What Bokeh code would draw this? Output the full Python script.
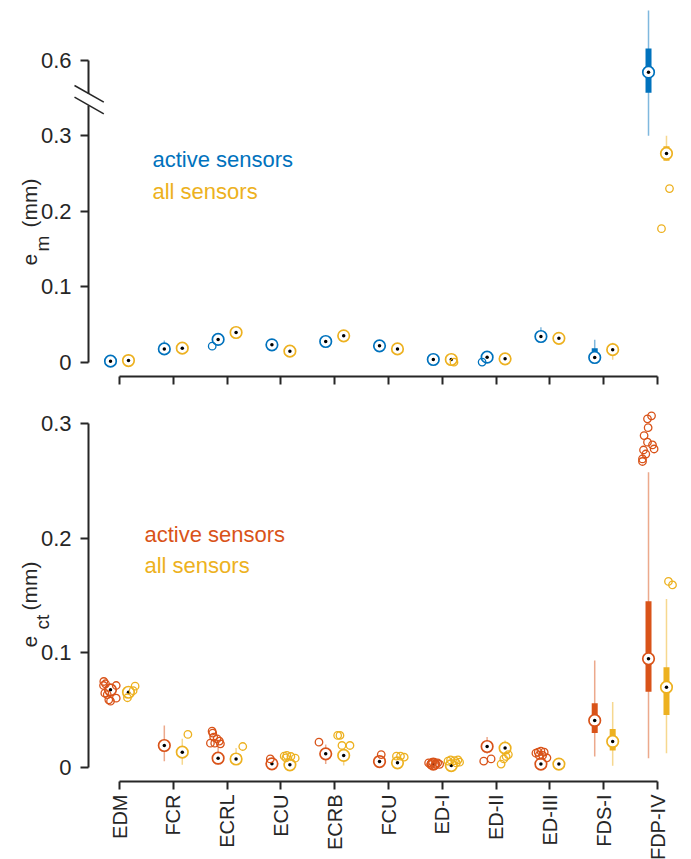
import numpy as np
from bokeh.plotting import figure
from bokeh.models import ColumnDataSource, FixedTicker, Label, Arrow, Range1d, LinearAxis
from bokeh.layouts import column
from bokeh.embed import file_html
from bokeh.resources import INLINE

# ---------------- data ----------------
CATS = ["EDM", "FCR", "ECRL", "ECU", "ECRB", "FCU", "ED-I", "ED-II", "ED-III", "FDS-I", "FDP-IV"]

# e_m, active sensors
em_act_med = [0.0018, 0.0180, 0.0305, 0.0234, 0.0278, 0.0220, 0.0040, 0.0070, 0.0344, 0.0066, 0.580]
em_act_q1  = [0.0017, 0.0170, 0.0300, 0.0222, 0.0272, 0.0215, 0.0038, 0.0066, 0.0338, 0.0062, 0.546]
em_act_q3  = [0.0020, 0.0190, 0.0310, 0.0252, 0.0284, 0.0225, 0.0042, 0.0074, 0.0350, 0.0190, 0.619]
em_act_wlo = [0.0016, 0.0160, 0.0295, 0.0220, 0.0270, 0.0212, 0.0036, 0.0064, 0.0330, 0.0040, 0.475]
em_act_whi = [0.0021, 0.0290, 0.0315, 0.0255, 0.0286, 0.0228, 0.0044, 0.0076, 0.0467, 0.0300, 0.682]
em_act_out_cat = [2, 7]
em_act_out_val = [0.0216, 0.0005]
em_act_out_dx  = [-0.11, -0.093]

# e_m, all sensors
em_all_med = [0.0026, 0.0190, 0.0397, 0.0150, 0.0353, 0.0180, 0.0040, 0.0048, 0.0320, 0.0170, 0.2765]
em_all_q1  = [0.0025, 0.0185, 0.0392, 0.0145, 0.0348, 0.0175, 0.0038, 0.0046, 0.0315, 0.0150, 0.2670]
em_all_q3  = [0.0028, 0.0195, 0.0402, 0.0155, 0.0358, 0.0185, 0.0042, 0.0050, 0.0325, 0.0190, 0.2860]
em_all_wlo = [0.0024, 0.0180, 0.0390, 0.0140, 0.0345, 0.0172, 0.0036, 0.0044, 0.0312, 0.0036, 0.2670]
em_all_whi = [0.0029, 0.0200, 0.0405, 0.0160, 0.0360, 0.0188, 0.0044, 0.0052, 0.0328, 0.0260, 0.3000]
em_all_out_cat = [6, 10, 10]
em_all_out_val = [0.0004, 0.230, 0.177]
em_all_out_dx  = [0.05, 0.056, -0.093]

# e_ct, active sensors
ect_act_med = [0.0677, 0.0192, 0.0081, 0.0032, 0.0119, 0.0052, 0.0030, 0.0183, 0.0030, 0.0410, 0.0948]
ect_act_q1  = [0.0670, 0.0160, 0.0060, 0.0030, 0.0100, 0.0050, 0.0028, 0.0160, 0.0028, 0.0300, 0.0660]
ect_act_q3  = [0.0685, 0.0230, 0.0110, 0.0035, 0.0140, 0.0055, 0.0033, 0.0210, 0.0033, 0.0560, 0.1450]
ect_act_wlo = [0.0665, 0.0055, 0.0024, 0.0028, 0.0030, 0.0048, 0.0025, 0.0120, 0.0025, 0.0096, 0.0081]
ect_act_whi = [0.0690, 0.0366, 0.0177, 0.0036, 0.0200, 0.0056, 0.0035, 0.0265, 0.0035, 0.0933, 0.2575]
ect_act_out_cat = [0, 0, 0, 0, 0, 0, 0, 0, 0,
                   2, 2, 2, 2, 2, 2, 2, 2,
                   3, 4, 5,
                   6, 6, 6, 6, 6, 6, 6, 6,
                   7, 7,
                   8, 8, 8, 8, 8, 8, 8,
                   10, 10, 10, 10, 10, 10, 10, 10, 10, 10, 10]
ect_act_out_val = [0.0750, 0.0730, 0.0715, 0.0648, 0.0636, 0.0590, 0.0578, 0.0715, 0.0604,
                   0.0317, 0.0300, 0.0265, 0.0212, 0.0212, 0.0230, 0.0206, 0.0250,
                   0.0075, 0.0221, 0.0113,
                   0.0040, 0.0025, 0.0045, 0.0030, 0.0040, 0.0018, 0.0035, 0.0028,
                   0.0055, 0.0075,
                   0.0125, 0.0134, 0.0142, 0.0134, 0.0105, 0.0084, 0.0105,
                   0.3040, 0.3066, 0.2963, 0.2894, 0.2836, 0.2812, 0.2777, 0.2768, 0.2733, 0.2690, 0.2668]
ect_act_out_dx = [-0.125, -0.093, -0.130, -0.106, -0.061, -0.032, 0.0, 0.106, 0.106,
                  -0.112, -0.100, -0.082, -0.143, -0.063, 0.024, 0.043, -0.019,
                  -0.030, -0.125, 0.032,
                  -0.087, -0.050, -0.013, 0.043, 0.080, 0.024, -0.032, 0.117,
                  -0.063, 0.074,
                  -0.093, -0.050, 0.0, 0.061, 0.032, 0.112, -0.032,
                  -0.019, 0.056, -0.007, -0.082, -0.019, 0.074, 0.104, -0.093, -0.050, -0.112, -0.112]

# e_ct, all sensors
ect_all_med = [0.0656, 0.0134, 0.0074, 0.0023, 0.0105, 0.0041, 0.0017, 0.0169, 0.0030, 0.0227, 0.0700]
ect_all_q1  = [0.0650, 0.0110, 0.0060, 0.0020, 0.0090, 0.0038, 0.0015, 0.0150, 0.0028, 0.0148, 0.0457]
ect_all_q3  = [0.0662, 0.0160, 0.0090, 0.0026, 0.0120, 0.0044, 0.0020, 0.0190, 0.0033, 0.0336, 0.0873]
ect_all_wlo = [0.0645, 0.0023, 0.0030, 0.0018, 0.0017, 0.0036, 0.0013, 0.0130, 0.0025, 0.0015, 0.0125]
ect_all_whi = [0.0668, 0.0250, 0.0170, 0.0028, 0.0160, 0.0046, 0.0022, 0.0235, 0.0035, 0.0570, 0.1470]
ect_all_out_cat = [0, 0, 0, 1, 2, 3, 3, 3, 3, 3, 4, 4, 4, 4, 5, 5, 5,
                   6, 6, 6, 6, 6, 6, 7, 7, 7, 7, 10, 10]
ect_all_out_val = [0.0709, 0.0608, 0.0670, 0.0288, 0.0183,
                   0.0099, 0.0105, 0.0096, 0.0081, 0.0084,
                   0.0280, 0.0280, 0.0192, 0.0192,
                   0.0099, 0.0099, 0.0090,
                   0.0055, 0.0066, 0.0060, 0.0066, 0.0040, 0.0046,
                   0.0030, 0.0075, 0.0096, 0.0113,
                   0.1622, 0.1592]
ect_all_out_dx = [0.123, -0.019, 0.086, 0.104, 0.124,
                  -0.106, -0.056, 0.019, 0.099, -0.074,
                  -0.112, -0.069, -0.032, 0.117,
                  -0.019, 0.056, 0.125,
                  -0.061, -0.013, 0.061, 0.125, 0.093, 0.154,
                  -0.074, -0.024, 0.019, 0.061,
                  0.037, 0.112]

EM_TICKS = [0, 0.1, 0.2, 0.3, 0.6]
ECT_TICKS = [0, 0.1, 0.2, 0.3]

# ---------------- style ----------------
BLUE, RED, YELLOW = "#0072BD", "#D95319", "#EDB120"
AX = "#262626"
FONT = "Liberation Sans"
GROUP_OFFSET = 0.167

# broken axis for e_m
EM_BREAK_LO, EM_BREAK_HI, EM_UPPER_SCALE = 0.3, 0.475, 0.8


def disp_em(v):
    v = np.asarray(v, dtype=float)
    return np.where(v <= EM_BREAK_LO, v, EM_BREAK_LO + (v - EM_BREAK_HI) * EM_UPPER_SCALE)


def ident(v):
    return np.asarray(v, dtype=float)


W = 691
PX_CAT = 53.8
AXIS_PX = 88            # pixel x of the y-axis line
RIGHT_B = 6
FW = W - RIGHT_B        # frame spans from x=0
C_AXIS = -31.0 / PX_CAT
X_L = C_AXIS - AXIS_PX / PX_CAT
X_R = X_L + FW / PX_CAT

T1, FH1, B1 = 4, 372, 14
H1 = T1 + FH1 + B1
EM_PX = 756.0
EM_Y0 = -14.0 / EM_PX
EM_Y1 = EM_Y0 + FH1 / EM_PX

T2, FH2, B2 = 10, 381, 78
ECT_PX = 1147.0
ECT_Y0 = -14.0 / ECT_PX
ECT_Y1 = ECT_Y0 + FH2 / ECT_PX


def style_axis(ax):
    ax.axis_line_color = AX
    ax.axis_line_width = 2
    ax.major_tick_line_color = AX
    ax.major_tick_line_width = 2
    ax.major_tick_out = 8
    ax.major_tick_in = 0
    ax.minor_tick_line_color = None
    ax.major_label_text_color = AX
    ax.major_label_text_font = FONT


def make_fig(fh, tb, bb, y0, y1, yticks_disp, ytick_labels, show_x_labels):
    p = figure(frame_width=FW, frame_height=fh, output_backend="svg", toolbar_location=None,
               x_range=Range1d(X_L, X_R), y_range=Range1d(y0, y1), y_axis_location=None,
               min_border_left=0, min_border_right=RIGHT_B,
               min_border_top=tb, min_border_bottom=bb)
    p.outline_line_color = None
    p.grid.visible = False
    p.background_fill_color = "white"
    p.border_fill_color = "white"
    ya = LinearAxis(fixed_location=C_AXIS)
    p.add_layout(ya, "left")
    style_axis(ya)
    ya.ticker = FixedTicker(ticks=yticks_disp)
    ya.bounds = (0, max(yticks_disp))
    ya.major_label_overrides = {t: l for t, l in zip(yticks_disp, ytick_labels)}
    ya.major_label_text_font_size = "22px"
    ya.major_label_standoff = 9
    xa = p.xaxis[0]
    style_axis(xa)
    xa.ticker = FixedTicker(ticks=list(range(len(CATS))))
    xa.bounds = (0, len(CATS) - 1)
    if show_x_labels:
        xa.major_label_overrides = {i: c for i, c in enumerate(CATS)}
        xa.major_label_orientation = np.pi / 2
        xa.major_label_text_font_size = "20px"
        xa.major_label_standoff = 5
    else:
        xa.major_label_overrides = {i: "" for i in range(len(CATS))}
        xa.major_label_text_font_size = "0px"
        xa.major_label_standoff = 0
    return p


def draw_group(p, offset, med, q1, q3, wlo, whi, ocat, oval, odx, color, tf):
    xs = np.arange(len(CATS)) + offset
    src = ColumnDataSource(dict(x=xs, med=tf(med), q1=tf(q1), q3=tf(q3), wlo=tf(wlo), whi=tf(whi)))
    p.segment(x0="x", y0="wlo", x1="x", y1="whi", source=src, line_color=color,
              line_alpha=0.5, line_width=1.5)
    p.segment(x0="x", y0="q1", x1="x", y1="q3", source=src, line_color=color,
              line_width=6, line_cap="butt")
    p.scatter(x="x", y="med", source=src, size=11.5, fill_color="white", line_color=color, line_width=1.7)
    p.scatter(x="x", y="med", source=src, size=3.5, fill_color="black", line_color=None)
    osrc = ColumnDataSource(dict(x=np.asarray(ocat) + offset + np.asarray(odx), y=tf(oval)))
    p.scatter(x="x", y="y", source=osrc, size=7.5, fill_color=None, line_color=color, line_width=1.3)


def rot_labels(p, pieces, to_data):
    for text, bx, sy, size in pieces:
        x, y = to_data(bx, sy)
        p.add_layout(Label(x=x, y=y, text=text, angle=np.pi / 2, text_font=FONT,
                           text_font_size=size, text_color=AX,
                           text_baseline="alphabetic", text_align="left"))


def top_xy(px, py):
    return X_L + px / PX_CAT, EM_Y0 + (T1 + FH1 - py) / EM_PX


def bot_xy(px, py):
    return X_L + px / PX_CAT, ECT_Y0 + (H1 + T2 + FH2 - py) / ECT_PX


# ---------------- top panel ----------------
em_ticks_disp = [round(float(t), 6) for t in disp_em(EM_TICKS)]
p1 = make_fig(FH1, T1, B1, EM_Y0, EM_Y1, em_ticks_disp, [f"{t:g}" for t in EM_TICKS], False)
draw_group(p1, -GROUP_OFFSET, em_act_med, em_act_q1, em_act_q3, em_act_wlo, em_act_whi,
           em_act_out_cat, em_act_out_val, em_act_out_dx, BLUE, disp_em)
draw_group(p1, GROUP_OFFSET, em_all_med, em_all_q1, em_all_q3, em_all_wlo, em_all_whi,
           em_all_out_cat, em_all_out_val, em_all_out_dx, YELLOW, disp_em)

# axis break marks
bx0, by0 = top_xy(AXIS_PX, 93.0)
bx1, by1 = top_xy(AXIS_PX, 105.0)
p1.add_layout(Arrow(end=None, x_start=bx0, y_start=by0, x_end=bx1, y_end=by1,
                    line_color="white", line_width=6))
for yy in (85, 96.7):
    xa0, ya0 = top_xy(74, yy)
    xa1, ya1 = top_xy(103.3, yy + 16.7)
    p1.add_layout(Arrow(end=None, x_start=xa0, y_start=ya0, x_end=xa1, y_end=ya1,
                        line_color=AX, line_width=1.5))

rot_labels(p1, [("e", 29, 265, "21px"), ("m", 42, 251, "19px"), ("(mm)", 29, 227, "21px")], top_xy)
for text, col, py in (("active sensors", BLUE, 159.3), ("all sensors", YELLOW, 190.7)):
    x, y = top_xy(152, py)
    p1.add_layout(Label(x=x, y=y, text=text, text_font=FONT, text_font_size="22px",
                        text_color=col, text_baseline="alphabetic", text_align="left"))

# ---------------- bottom panel ----------------
p2 = make_fig(FH2, T2, B2, ECT_Y0, ECT_Y1, ECT_TICKS, [f"{t:g}" for t in ECT_TICKS], True)
draw_group(p2, -GROUP_OFFSET, ect_act_med, ect_act_q1, ect_act_q3, ect_act_wlo, ect_act_whi,
           ect_act_out_cat, ect_act_out_val, ect_act_out_dx, RED, ident)
draw_group(p2, GROUP_OFFSET, ect_all_med, ect_all_q1, ect_all_q3, ect_all_wlo, ect_all_whi,
           ect_all_out_cat, ect_all_out_val, ect_all_out_dx, YELLOW, ident)

rot_labels(p2, [("e", 29, 647, "21px"), ("ct", 42, 629, "19px"), ("(mm)", 29, 610, "21px")], bot_xy)
for text, col, py in (("active sensors", RED, 534), ("all sensors", YELLOW, 565)):
    x, y = bot_xy(144, py)
    p2.add_layout(Label(x=x, y=y, text=text, text_font=FONT, text_font_size="22px",
                        text_color=col, text_baseline="alphabetic", text_align="left"))

layout = column(p1, p2, spacing=0)
open("out.html", "w").write(file_html(layout, INLINE))
